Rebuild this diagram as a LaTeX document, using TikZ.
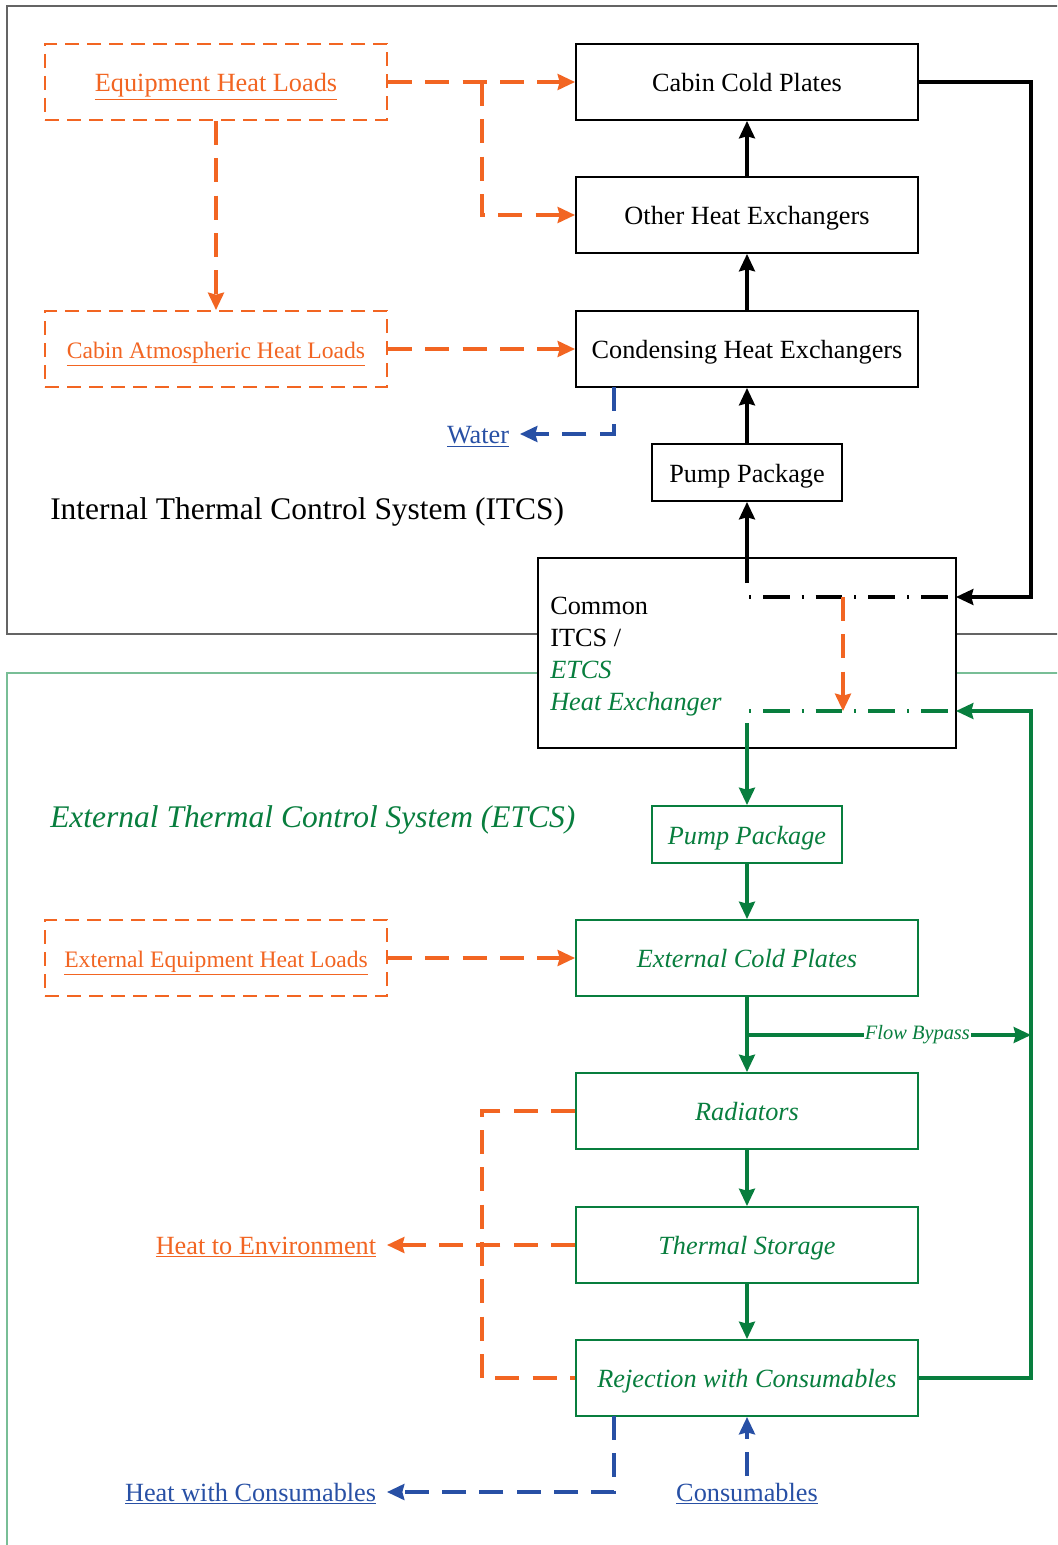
\documentclass[tikz,border=0pt]{standalone}
\usepackage{fontspec}
\setmainfont{Liberation Serif}
\usetikzlibrary{arrows.meta}
\definecolor{orn}{RGB}{242,101,34}
\definecolor{grn}{RGB}{8,126,62}
\definecolor{blu}{RGB}{40,80,165}
\definecolor{frgray}{RGB}{100,100,100}
\definecolor{frgrn}{RGB}{120,190,150}
\newcommand\fsmain{\fontsize{19.7pt}{24pt}\selectfont}
\newcommand\fssmall{\fontsize{17.7pt}{21pt}\selectfont}
\newcommand\fsbig{\fontsize{23.6pt}{28pt}\selectfont}
\newcommand\fsflow{\fontsize{15.3pt}{18pt}\selectfont}
\tikzset{
  >={Stealth[length=13pt,width=12pt,inset=1.5pt]},
  bbox/.style={draw=black, line width=1.5pt, fill=white, minimum width=256.5pt, minimum height=57pt, inner sep=0pt, font=\fsmain, text height=17pt, text depth=2.6pt},
  pbox/.style={bbox, minimum width=142.5pt, minimum height=42.75pt},
  gbox/.style={bbox, draw=grn, text=grn, font=\fsmain\itshape},
  gpbox/.style={gbox, minimum width=142.5pt, minimum height=42.75pt},
  cbox/.style={draw=black, line width=1.5pt, fill=white, minimum width=313.5pt, minimum height=142.5pt, inner sep=0pt},
  obox/.style={draw=orn, line width=1.5pt, dash pattern=on 10.5pt off 6pt, minimum width=256.5pt, minimum height=57pt, inner sep=0pt, text=orn, font=\fsmain, text height=17pt, text depth=2.6pt},
  blk/.style={draw=black, line width=2.3pt},
  grnl/.style={draw=grn, line width=2.3pt},
  ocon/.style={draw=orn, line width=2.6pt, dash pattern=on 18pt off 10pt},
  bcon/.style={draw=blu, line width=2.6pt, dash pattern=on 18pt off 10pt},
  ddot/.style={line width=2.3pt, dash pattern=on 1.5pt off 9pt on 20pt off 9pt},
  lbl/.style={font=\fsmain, inner xsep=8pt, inner ysep=2pt, text height=17pt, text depth=2.6pt},
}
\begin{document}
\begin{tikzpicture}[x=0.75pt,y=-0.75pt]
\useasboundingbox (0,0) rectangle (1057,1545);
\clip (0,0) rectangle (1057,1545);
\fill[white] (0,0) rectangle (1057,1545);
% frames
\draw[frgray, line width=1pt] (1070,6) -- (7,6) -- (7,634) -- (1070,634);
\draw[frgrn, line width=1pt] (1070,673) -- (7,673) -- (7,1560);

% ITCS nodes
\node[obox] (ehl) at (216,82) {\underline{Equipment Heat Loads}};
\node[obox, font=\fssmall] (cahl) at (216,349) {\underline{Cabin Atmospheric Heat Loads}};
\node[bbox] (ccp) at (747,82) {Cabin Cold Plates};
\node[bbox] (ohx) at (747,215) {Other Heat Exchangers};
\node[bbox] (chx) at (747,349) {Condensing Heat Exchangers};
\node[pbox] (ppi) at (747,472.5) {Pump Package};
\node[lbl, text=blu, anchor=east] (water) at (520,434) {\underline{Water}};
\node[anchor=west, font=\fsbig, inner sep=0pt] (itcs) at (50,512) {Internal Thermal Control System (ITCS)};

% common heat exchanger
\node[cbox] (chex) at (747,653) {};
\node[anchor=west, align=left, font=\fsmain, inner sep=0pt] (chext) at (550,657)
  {Common\\ITCS /\\{\color{grn}\itshape ETCS}\\{\color{grn}\itshape Heat Exchanger}};

% ETCS nodes
\node[anchor=west, font=\fsbig\itshape, text=grn, inner sep=0pt] (etcs) at (50,820) {External Thermal Control System (ETCS)};
\node[gpbox] (ppe) at (747,834.5) {Pump Package};
\node[obox, font=\fssmall] (eehl) at (216,958) {\underline{External Equipment Heat Loads}};
\node[gbox] (ecp) at (747,958) {External Cold Plates};
\node[gbox] (rad) at (747,1111) {Radiators};
\node[gbox] (ts) at (747,1245) {Thermal Storage};
\node[gbox] (rej) at (747,1378) {Rejection with Consumables};
\node[lbl, text=orn, anchor=east] (hte) at (387,1245) {\underline{Heat to Environment}};
\node[lbl, text=blu, anchor=east] (hwc) at (387,1492) {\underline{Heat with Consumables}};
\node[lbl, text=blu] (cons) at (747,1492) {\underline{Consumables}};

% coordinates
\coordinate (ob1) at (482,82);
\coordinate (ob2) at (482,1111);
\coordinate (ob3) at (482,1378);
\coordinate (w1) at (614,387);
\coordinate (w2) at (614,1416);
\coordinate (cin) at (956,597);
\coordinate (gin) at (956,711);
\coordinate (k1) at (1031,82);
\coordinate (k2) at (1031,597);
\coordinate (g1) at (1031,1378);
\coordinate (g2) at (1031,711);
\coordinate (bp1) at (747,1035);
\coordinate (bp2) at (1031,1035);
\coordinate (bs) at (747,583);
\coordinate (gs) at (747,723);
\coordinate (dd1) at (749,597);
\coordinate (dd2) at (749,711);
\coordinate (ov1) at (843,597);
\coordinate (ov2) at (843,711);

% orange connectors
\draw[ocon, ->] (ehl.east) -- (ccp.west);
\draw[ocon, ->] (ob1) |- (ohx.west);
\draw[ocon, ->] (ehl.south) -- (cahl.north);
\draw[ocon, ->] (cahl.east) -- (chx.west);
\draw[ocon, ->] (eehl.east) -- (ecp.west);
\draw[ocon] (rad.west) -- (ob2) -- (ob3) -- (rej.west);
\draw[ocon, ->] (ts.west) -- (hte.east);

% blue connectors
\draw[bcon, ->] (w1) |- (water.east);
\draw[bcon, ->] (w2) |- (hwc.east);
\draw[bcon, ->] (cons.north) -- (rej.south);

% black connectors
\draw[blk, ->] (ohx.north) -- (ccp.south);
\draw[blk, ->] (chx.north) -- (ohx.south);
\draw[blk, ->] (ppi.north) -- (chx.south);
\draw[blk, ->] (bs) -- (ppi.south);
\draw[blk, ->] (ccp.east) -- (k1) -- (k2) -- (cin);
\draw[ddot, black] (dd1) -- (cin);

% inside exchanger
\draw[ddot, grn] (dd2) -- (gin);
\draw[ocon, ->] (ov1) -- (ov2);

% green connectors
\draw[grnl, ->] (gs) -- (ppe.north);
\draw[grnl, ->] (ppe.south) -- (ecp.north);
\draw[grnl, ->] (ecp.south) -- (rad.north);
\draw[grnl, ->] (bp1) -- node[fill=white, inner sep=1pt, font=\fsflow\itshape, text=grn, pos=0.6] (fb) {Flow Bypass} (bp2);
\draw[grnl, ->] (rad.south) -- (ts.north);
\draw[grnl, ->] (ts.south) -- (rej.north);
\draw[grnl, ->] (rej.east) -- (g1) -- (g2) -- (gin);
\end{tikzpicture}
\end{document}
